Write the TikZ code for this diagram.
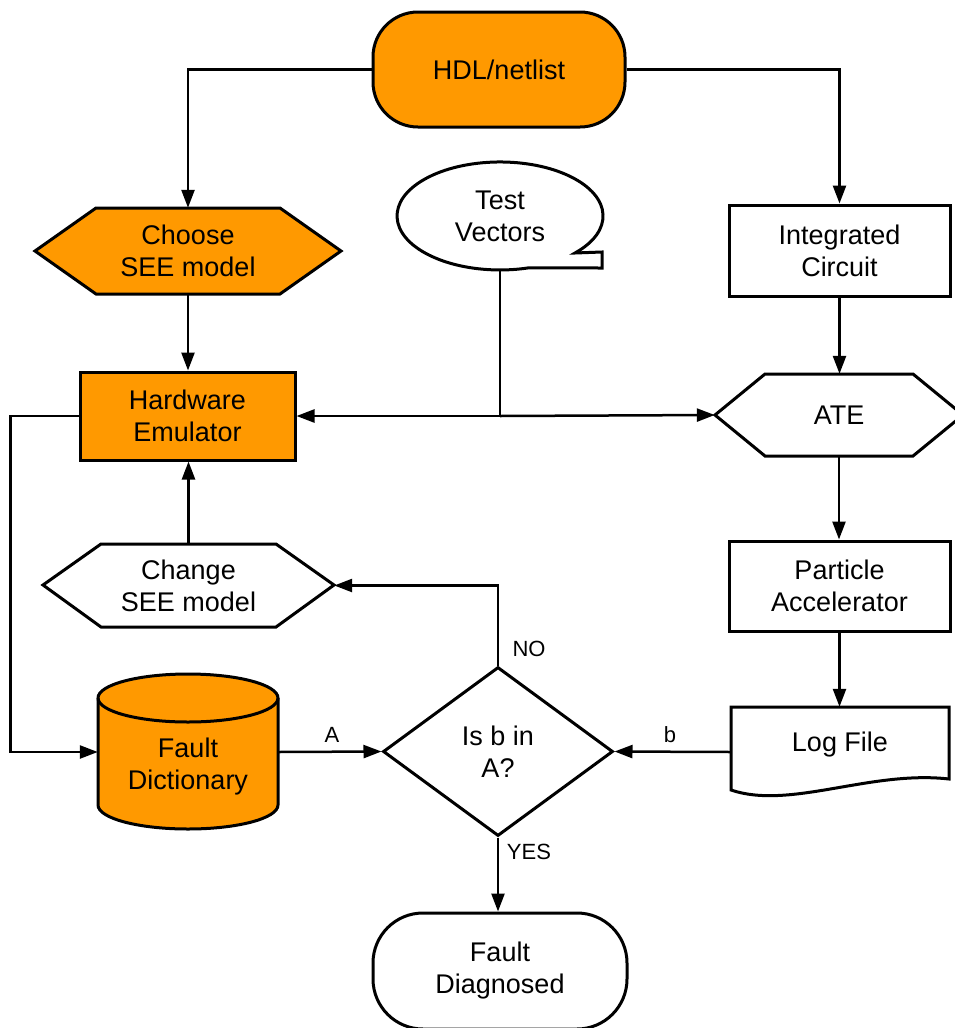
\documentclass[tikz,border=0pt]{standalone}
\usepackage{fontspec}
\setmainfont{Liberation Sans}
\usetikzlibrary{shapes.geometric,arrows.meta}
\definecolor{orng}{HTML}{FF9900}
\begin{document}
\begin{tikzpicture}[x=1pt,y=-1pt,
  txt/.style={font=\fontsize{27}{32}\selectfont, align=center, inner sep=0pt},
  lbl/.style={font=\fontsize{22}{26}\selectfont, inner sep=0pt},
  shapeline/.style={line width=3pt, line join=miter},
  conn/.style={line width=2.5pt},
  arr/.style={conn, -{Triangle[length=18pt,width=13pt]}}]
\useasboundingbox (0,0) rectangle (955,1028);

% HDL/netlist
\node[txt, draw, shapeline, fill=orng, rounded corners=45pt, minimum width=252pt, minimum height=115pt] (hdl) at (499,69.5) {HDL/netlist};

% Choose SEE model
\draw[shapeline, fill=orng] (35,251) -- (96,208) -- (280,208) -- (341,251) -- (280,294) -- (96,294) -- cycle;
\node[txt, minimum width=306pt, minimum height=86pt] (choose) at (188,251) {Choose\\SEE model};

% Test Vectors
\draw[shapeline, fill=white] (575,253) arc[start angle=43.3, end angle=-285.8, x radius=103, y radius=54] -- (602,268) -- (602,252) -- cycle;
\node[txt, minimum width=206pt, minimum height=108pt] (tv) at (500,216) {Test\\Vectors};

% Integrated Circuit
\node[txt, draw, shapeline, fill=white, minimum width=221pt, minimum height=91pt] (ic) at (839.5,250.5) {Integrated\\Circuit};

% Hardware Emulator
\node[txt, draw, shapeline, fill=orng, minimum width=215pt, minimum height=88pt] (hw) at (187.5,416) {Hardware\\Emulator};

% ATE
\draw[shapeline, fill=white] (715,415) -- (765,374) -- (913,374) -- (963,415) -- (913,456) -- (765,456) -- cycle;
\node[txt, minimum width=248pt, minimum height=82pt] (ate) at (839,415) {ATE};

% Particle Accelerator
\node[txt, draw, shapeline, fill=white, minimum width=221pt, minimum height=90pt] (pa) at (839.5,586) {Particle\\Accelerator};

% Change SEE model
\draw[shapeline, fill=white] (43,585) -- (101,544) -- (276,544) -- (334,585) -- (276,627) -- (101,627) -- cycle;
\node[txt, minimum width=291pt, minimum height=83pt] (chg) at (188.5,585.5) {Change\\SEE model};

% Log File
\draw[shapeline, fill=white] (731,707) -- (949,707) -- (949,779) .. controls (870,770) and (790,810) .. (731,790) -- cycle;
\node[minimum width=218pt, minimum height=90pt, inner sep=0pt] (log) at (840,752) {};
\node[txt] (logt) at (840,745) {Log File};

% Fault Dictionary
\draw[shapeline, fill=orng] (98,698) -- (98,805) arc[start angle=180, end angle=0, x radius=90, y radius=24] -- (278,698) arc[start angle=0, end angle=-180, x radius=90, y radius=24] -- cycle;
\draw[shapeline] (98,698) arc[start angle=180, end angle=0, x radius=90, y radius=24];
\node[minimum width=180pt, minimum height=130pt, inner sep=0pt] (fd) at (188,752) {};
\node[txt] (fdt) at (188,767) {Fault\\Dictionary};

% Decision
\node[txt, draw, shapeline, diamond, aspect=1.36, fill=white, minimum width=230pt, minimum height=169pt] (dia) at (498,751.5) {Is b in\\A?};

% Fault Diagnosed
\node[txt, draw, shapeline, fill=white, rounded corners=50pt, minimum width=254pt, minimum height=116pt] (fdg) at (500,971) {Fault\\Diagnosed};

% Connectors
\draw[arr] (hdl.west) -| (choose.north);
\draw[arr] (hdl.east) -| (ic.north);
\draw[arr] (choose.south) -- (choose.south |- hw.north);
\coordinate (j) at (500,416);
\draw[conn] (tv.south) -- (j);
\draw[arr] (j) -- (hw.east);
\draw[arr] (j) -- (ate.west);
\draw[arr] (ic.south) -- (ic.south |- ate.north);
\draw[arr] (ate.south) -- (ate.south |- pa.north);
\draw[arr] (pa.south) -- (pa.south |- log.north);
\draw[arr] (log.west) -- (dia.east);
\draw[arr] (fd.east) -- (dia.west);
\draw[arr] (dia.north) |- (chg.east);
\draw[arr] (dia.south) -- (dia.south |- fdg.north);
\draw[arr] (chg.north) -- (chg.north |- hw.south);
\draw[arr] (hw.west) -- ++(-68,0) |- (fd.west);

% Labels
\node[lbl] (lb) at (670,735) {b};
\node[lbl] (la) at (332,735) {A};
\node[lbl] (lno) at (529,649) {NO};
\node[lbl] (lyes) at (529,852) {YES};
\end{tikzpicture}
\end{document}
